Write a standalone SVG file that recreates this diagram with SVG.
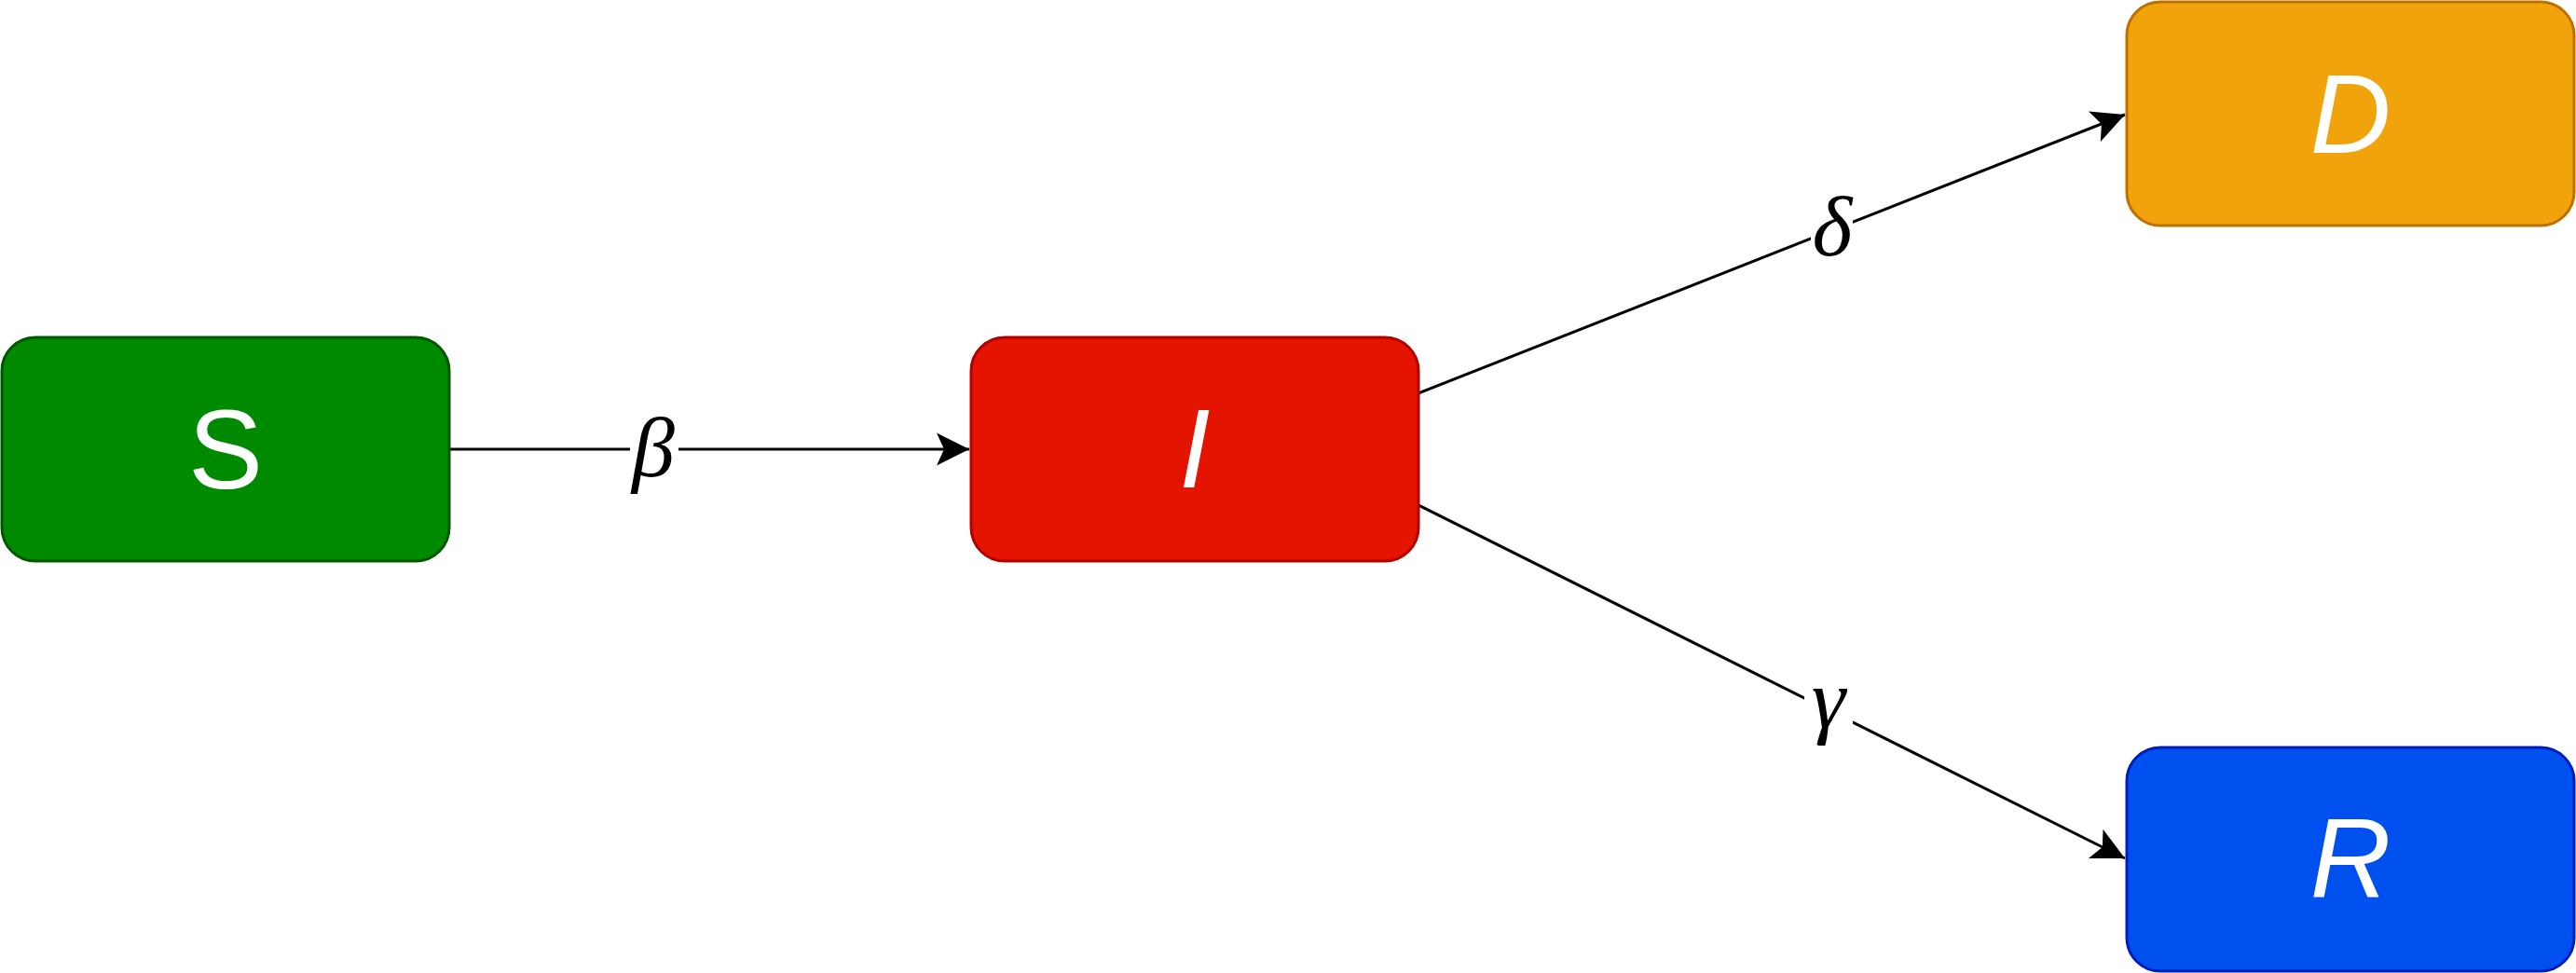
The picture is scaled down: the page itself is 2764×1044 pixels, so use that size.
<svg xmlns="http://www.w3.org/2000/svg" width="2764" height="1044" viewBox="0 0 2764 1044">
<style>
.node{stroke-width:3}
.lbl{font-family:"Liberation Sans",Arial,sans-serif;font-size:120px;fill:#ffffff;text-anchor:middle}
.it{font-style:italic}
.edge{stroke:#000000;stroke-width:3;fill:none}
.gk{font-family:"Liberation Serif","Times New Roman",serif;font-style:italic;font-size:92px;fill:#000000;text-anchor:middle}
.bg{fill:#ffffff}
</style>
<defs>
<marker id="arr" markerUnits="userSpaceOnUse" markerWidth="40" markerHeight="40" viewBox="-36 -20 40 40" refX="0" refY="0" orient="auto">
<path d="M0,0 L-35,-17.5 L-27,0 L-35,17.5 Z" fill="#000000"/>
</marker>
</defs>
<g id="connectors">
<line class="edge" x1="483" y1="482" x2="1040" y2="482" marker-end="url(#arr)"/>
<line class="edge" x1="1522" y1="422" x2="2280" y2="123" marker-end="url(#arr)"/>
<line class="edge" x1="1522" y1="542" x2="2280" y2="921" marker-end="url(#arr)"/>
<rect class="bg" x="676" y="440" width="52" height="92"/>
<rect class="bg" x="1943" y="203" width="45" height="74"/>
<rect class="bg" x="1936" y="735" width="52" height="70"/>
<text class="gk" x="701" y="511">β</text>
<text class="gk" x="1966" y="274">δ</text>
<text class="gk" x="1962" y="781">γ</text>
</g>
<g id="node-S">
<rect class="node" x="2" y="362" width="480" height="240" rx="36" ry="36" fill="#008a00" stroke="#005700"/>
<text class="lbl" x="242" y="524">S</text>
</g>
<g id="node-I">
<rect class="node" x="1042" y="362" width="480" height="240" rx="36" ry="36" fill="#e51400" stroke="#b20000"/>
<text class="lbl it" x="1282" y="523">I</text>
</g>
<g id="node-D">
<rect class="node" x="2282" y="2" width="480" height="240" rx="36" ry="36" fill="#f0a30a" stroke="#bd7000"/>
<text class="lbl it" x="2522" y="164">D</text>
</g>
<g id="node-R">
<rect class="node" x="2282" y="802" width="480" height="240" rx="36" ry="36" fill="#0050ef" stroke="#001dbc"/>
<text class="lbl it" x="2522" y="963">R</text>
</g>
</svg>
